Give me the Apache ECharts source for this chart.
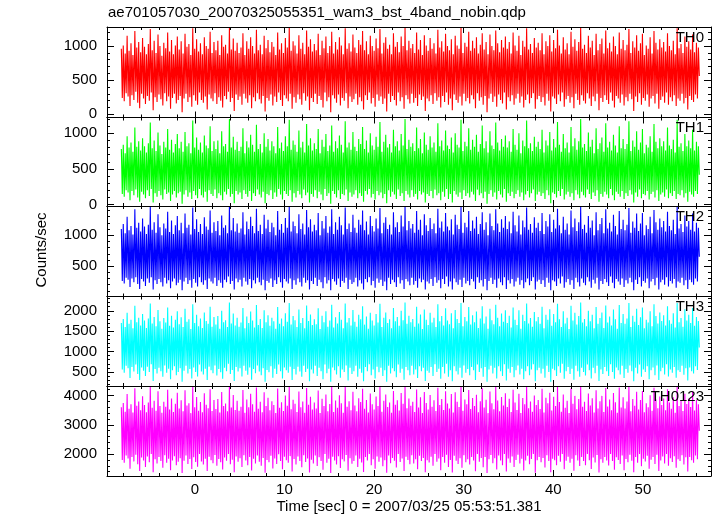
<!DOCTYPE html>
<html><head><meta charset="utf-8">
<script src="https://cdn.jsdelivr.net/npm/echarts@6/dist/echarts.min.js"></script>
<style>html,body{margin:0;padding:0;background:#fff}#c{width:717px;height:516px}</style>
</head><body><div id="c"></div>
<script>
const chartTitle = 'ae701057030_20070325055351_wam3_bst_4band_nobin.qdp';
const xTitle = 'Time [sec] 0 = 2007/03/25 05:53:51.381';
const yTitle = 'Counts/sec';
const bandNames = ['TH0', 'TH1', 'TH2', 'TH3', 'TH0123'];
const bandColors = ['#ff0000', '#00ff00', '#0000ff', '#00ffff', '#ff00ff'];
const timeStart = -8.2, timeEnd = 56.3;
const xRange = [-9.8, 57.6];
const xMajorTicks = [0, 10, 20, 30, 40, 50];
const xMinorTicks = [-8, -6, -4, -2, 2, 4, 6, 8, 12, 14, 16, 18, 22, 24, 26, 28, 32, 34, 36, 38, 42, 44, 46, 48, 52, 54, 56];
const yRanges = [[-47, 1280], [-20, 1222], [8, 1473], [155, 2350], [1250, 4328]];
const yMajorTicks = [[0, 500, 1000], [0, 500, 1000], [500, 1000], [500, 1000, 1500, 2000], [2000, 3000, 4000]];
const yMinorStep = [100, 100, 100, 100, 200];

const th0 = [
960,240,1010,190,890,310,1150,260,930,120,1040,280,870,210,1220,330,980,170,1060,90,
910,300,1120,230,990,150,880,270,1030,200,1250,320,940,60,1080,250,900,180,1170,290,
1000,220,860,130,1050,310,970,190,1200,260,920,80,1090,240,880,300,1010,160,1140,210,
950,270,1070,30,890,230,1180,300,990,180,1030,250,870,110,1260,280,960,200,1100,140,
920,320,1040,210,880,170,1130,260,1000,70,960,290,1210,230,900,190,1060,310,940,150,
1080,250,870,200,1160,100,990,270,1020,220,890,330,1270,180,950,240,1110,50,930,290,
1050,210,900,260,980,140,1190,300,870,230,1070,170,960,280,1130,90,1000,250,890,190,
1240,310,940,220,1020,160,880,270,1150,40,970,240,1090,200,910,290,1060,130,990,260,
870,180,1200,320,950,210,1040,120,900,280,1120,230,980,190,1280,300,930,80,1070,250,
1010,170,890,290,1160,220,960,140,1050,310,880,200,1230,260,990,60,1100,240,920,180,
1030,300,940,150,1180,270,870,210,1080,100,970,320,1140,190,900,250,1000,30,1210,280,
890,230,1060,170,950,290,1130,130,1010,240,880,200,1260,310,960,90,1040,260,920,180,
1170,220,980,300,900,140,1090,250,1020,190,1220,70,940,280,1070,210,880,320,1150,160,
1000,240,930,110,1110,290,970,200,1250,260,890,150,1050,230,1130,40,960,300,1020,180,
880,270,1190,210,990,130,1060,320,910,190,1140,250,1000,80,1270,280,940,220,1080,160,
970,300,1030,170,900,240,1200,120,950,290,1090,210,870,260,1160,50,1010,230,930,190,
1120,280,960,150,1040,310,890,200,1240,250,980,100,1070,270,920,180,1180,320,1000,140,
940,230,1100,60,880,290,1150,210,1010,170,960,260,1280,130,900,300,1050,190,990,240,
1210,160,930,280,1080,220,970,90,1130,310,890,200,1020,250,1190,140,950,270,1060,30,
880,230,1170,300,1000,180,940,260,1230,110,1040,290,910,210,1090,160,980,320,1140,70,
960,250,1060,190,890,280,1200,140,1010,230,930,300,1150,170,870,260,1080,100,990,210,
1260,290,950,160,1030,240,900,310,1120,80,980,220,1050,270,940,180,1190,250,880,130,
1070,300,1000,200,1160,40,920,260,1090,230,970,150,1240,290,1010,190,890,320,1130,110,
950,220,1040,270,880,170,1210,250,990,90,1100,300,930,210,1060,140,1270,280,960,200,
1020,160,900,310,1150,230,980,120,1080,260,870,190,1180,300,940,60,1030,240,1110,180,
890,280,1230,210,970,150,1050,320,920,200,1140,100,1000,270,880,230,1200,170,960,290,
1090,130,940,250,1020,190,1250,300,900,220,1070,50,980,260,1160,180,930,310,1040,140,
1180,240,870,200,1010,290,960,110,1130,230,890,270,1220,160,1050,300,950,80,1100,210,
980,260,1060,170,920,320,1190,140,1000,250,940,190,1080,280,880,120,1260,230,970,200,
1030,300,900,160,1140,240,990,70,1070,270,950,210,1170,180,910,290,1050,230,980,560];

const th1 = [
780,150,840,110,720,200,960,170,800,60,870,190,740,130,1080,210,810,100,890,40,
760,180,930,140,820,90,730,200,860,120,1150,220,790,30,900,160,750,110,1010,190,
830,130,710,70,880,210,800,150,1060,170,770,50,910,140,730,190,850,100,990,160,
790,180,880,10,740,140,1020,200,820,110,860,170,720,80,1180,190,800,130,940,90,
770,220,870,130,730,100,970,180,830,40,790,200,1100,150,750,120,890,210,780,90,
900,160,720,130,1030,60,820,180,850,140,740,220,1200,110,800,150,950,20,770,190,
880,140,750,170,810,80,1070,200,720,150,890,110,800,190,980,50,840,160,740,120,
1120,210,780,140,850,100,730,180,1000,20,810,150,920,130,760,200,890,80,820,170,
720,110,1090,220,790,140,870,70,750,190,960,150,820,120,1190,200,770,40,900,160,
840,100,740,190,1040,140,800,90,880,210,730,130,1130,170,830,30,930,150,760,110,
860,200,780,90,1060,180,720,140,910,60,810,220,990,120,750,160,830,10,1110,190,
740,150,890,100,790,200,970,80,840,150,730,130,1170,210,800,50,870,170,770,110,
1020,140,810,200,750,90,920,160,850,120,1090,40,780,190,900,140,730,220,1000,100,
830,150,770,70,950,190,810,130,1160,170,740,90,880,150,980,20,800,200,850,110,
730,180,1050,140,820,80,890,210,760,120,990,160,830,50,1200,190,780,140,910,100,
810,200,860,110,750,150,1080,70,790,190,920,140,720,170,1010,30,840,150,770,120,
960,190,800,90,870,210,740,130,1140,160,820,60,900,180,760,110,1040,220,830,80,
780,150,940,30,730,190,1000,140,840,110,800,170,1190,80,750,200,880,120,820,160,
1070,100,770,180,910,140,810,50,980,210,740,130,850,160,1110,90,790,180,890,10,
730,150,1030,200,830,110,780,170,1150,70,870,190,760,140,920,100,810,220,970,40,
800,160,890,120,740,180,1060,90,840,150,770,200,1000,110,720,170,900,60,820,140,
1180,190,790,100,860,160,750,210,950,50,810,140,880,180,780,120,1050,160,730,80,
900,200,830,130,1020,20,760,170,920,150,800,100,1160,190,840,120,740,220,990,70,
790,140,870,180,730,110,1090,160,820,60,930,200,770,140,890,90,1200,180,800,130,
850,100,750,210,1010,150,810,80,910,170,720,120,1070,200,780,40,860,150,940,110,
740,180,1140,140,800,90,880,220,760,130,980,60,830,180,730,150,1100,110,790,190,
920,80,780,160,850,120,1170,200,750,140,900,30,810,170,1030,110,770,210,870,90,
1060,150,720,130,840,190,800,70,960,150,740,180,1130,100,880,200,790,50,930,140,
820,170,890,110,760,210,1080,90,830,160,780,120,910,190,730,80,1190,150,810,130,
860,200,750,100,990,160,820,40,900,180,790,140,1050,110,760,190,880,150,820,420];

const th2 = [
1100,260,1180,220,1030,310,1300,280,1080,160,1150,300,1010,240,1420,320,1120,210,1200,130,
1060,290,1270,250,1140,180,1020,300,1170,230,1460,320,1090,120,1210,270,1040,210,1340,290,
1130,240,1000,170,1190,310,1110,220,1380,270,1050,140,1240,250,1020,300,1160,190,1310,230,
1080,280,1200,110,1030,250,1350,310,1120,210,1170,270,1010,150,1450,290,1100,230,1260,170,
1050,320,1180,240,1020,200,1290,270,1140,130,1090,300,1400,250,1040,220,1210,310,1070,180,
1230,270,1000,230,1320,150,1120,280,1160,240,1030,330,1470,210,1080,260,1280,120,1060,300,
1190,240,1040,280,1110,170,1370,310,1010,250,1220,200,1100,290,1300,140,1150,270,1030,220,
1430,310,1070,240,1170,190,1020,280,1330,110,1110,260,1250,230,1050,300,1200,160,1130,270,
1000,210,1390,320,1090,240,1180,150,1040,290,1280,250,1120,220,1460,300,1060,130,1220,270,
1150,200,1030,300,1340,240,1100,170,1190,310,1010,230,1410,270,1130,120,1260,260,1060,210,
1170,310,1080,180,1360,280,1000,240,1230,140,1110,320,1310,220,1040,270,1140,110,1420,290,
1020,250,1210,200,1090,300,1300,160,1160,260,1010,230,1450,310,1100,130,1190,280,1050,210,
1330,240,1120,310,1040,170,1250,270,1170,220,1400,120,1080,290,1220,240,1010,320,1310,190,
1150,260,1060,150,1270,300,1110,230,1440,280,1030,180,1200,250,1290,110,1100,310,1170,210,
1010,280,1370,240,1130,160,1210,320,1050,220,1320,270,1140,130,1470,290,1080,250,1230,190,
1110,310,1180,200,1040,260,1390,150,1090,300,1250,240,1000,280,1340,120,1160,250,1070,220,
1280,290,1100,180,1190,320,1030,230,1430,270,1120,140,1220,290,1060,210,1360,330,1140,170,
1080,250,1260,120,1010,300,1330,240,1170,200,1100,280,1460,160,1040,310,1200,220,1130,260,
1390,190,1070,290,1240,250,1110,130,1300,320,1020,230,1180,270,1370,170,1090,290,1210,110,
1000,260,1350,310,1150,210,1080,280,1420,150,1190,300,1050,240,1260,190,1120,320,1310,130,
1100,270,1220,220,1030,290,1380,170,1160,250,1060,310,1320,200,1010,270,1240,140,1130,240,
1450,300,1090,190,1180,260,1040,320,1290,120,1120,250,1200,280,1070,210,1360,270,1020,160,
1230,310,1140,230,1340,110,1050,270,1250,250,1110,180,1430,300,1160,220,1030,330,1300,150,
1090,240,1190,290,1010,200,1400,270,1130,130,1270,310,1070,240,1210,170,1460,300,1100,230,
1170,190,1040,320,1310,250,1120,150,1240,280,1000,220,1370,310,1080,120,1180,260,1280,210,
1030,290,1420,240,1110,180,1200,330,1060,230,1330,140,1150,290,1010,250,1390,200,1100,300,
1250,160,1080,270,1170,220,1440,310,1040,240,1220,110,1120,280,1350,210,1070,320,1190,170,
1360,260,1000,230,1160,300,1100,140,1300,250,1030,290,1410,190,1210,310,1090,120,1270,240,
1130,280,1230,200,1060,320,1380,170,1150,260,1080,220,1250,290,1020,150,1470,250,1110,230,
1180,310,1050,190,1320,270,1140,130,1230,280,1090,240,1350,200,1060,300,1200,250,1120,650];

const th3 = [
1700,560,1800,480,1600,650,1950,590,1680,350,1780,620,1570,510,2120,680,1720,450,1830,300,
1640,610,1920,530,1760,400,1580,630,1810,500,2180,690,1690,280,1850,570,1620,460,2020,600,
1740,520,1560,380,1820,660,1710,480,2080,580,1630,320,1880,540,1590,640,1780,420,1990,500,
1670,590,1840,260,1600,530,2050,650,1730,460,1790,570,1550,340,2160,610,1700,500,1900,390,
1620,680,1810,510,1580,440,1960,580,1750,300,1680,630,2100,540,1610,470,1850,660,1660,410,
1870,570,1560,490,2000,330,1720,600,1770,520,1600,700,2200,450,1690,550,1930,280,1640,620,
1830,510,1610,590,1710,390,2070,650,1570,530,1860,430,1700,610,1980,310,1760,570,1590,470,
2140,660,1650,510,1800,420,1580,590,2010,260,1720,550,1890,490,1630,640,1830,360,1740,580,
1560,450,2090,680,1680,520,1810,340,1620,610,1940,540,1730,480,2190,630,1660,300,1870,570,
1770,440,1600,630,2030,510,1700,380,1820,650,1570,500,2130,580,1750,270,1910,560,1650,460,
1790,650,1670,400,2060,600,1550,520,1880,320,1720,680,1990,470,1610,580,1760,260,2150,610,
1590,540,1840,440,1690,640,1970,360,1780,560,1570,500,2180,660,1710,290,1820,600,1640,450,
2020,520,1730,650,1610,380,1900,580,1790,480,2110,270,1660,620,1860,520,1560,690,1950,420,
1760,560,1640,340,1920,630,1710,490,2170,600,1600,400,1830,540,1960,260,1700,650,1790,460,
1570,590,2070,520,1740,370,1850,680,1630,480,2000,580,1770,310,2200,620,1680,540,1880,420,
1720,650,1800,440,1610,560,2100,350,1690,640,1910,520,1550,600,2030,280,1780,530,1650,480,
1950,620,1710,400,1830,690,1600,500,2160,580,1740,330,1870,620,1640,460,2060,700,1760,380,
1670,540,1940,270,1570,640,2020,520,1800,440,1700,600,2190,360,1620,660,1850,480,1740,570,
2090,420,1660,620,1890,540,1720,300,1980,680,1580,500,1810,590,2110,380,1690,620,1860,260,
1560,560,2050,650,1770,460,1670,600,2150,340,1830,640,1620,520,1930,400,1730,690,2010,290,
1700,580,1880,480,1590,620,2080,370,1780,540,1650,660,2010,440,1560,580,1900,320,1750,520,
2180,640,1690,420,1820,560,1610,690,1970,270,1740,540,1850,600,1680,460,2100,580,1570,360,
1900,650,1780,500,2040,260,1630,580,1920,540,1720,400,2170,640,1790,480,1600,700,1990,330,
1690,520,1830,620,1550,450,2120,580,1760,310,1950,650,1660,520,1870,380,2200,600,1710,500,
1800,410,1620,680,2000,540,1740,340,1900,600,1570,470,2090,650,1680,280,1820,560,1960,450,
1580,620,2130,520,1710,400,1860,690,1640,500,2030,330,1790,610,1560,540,2140,440,1700,650,
1920,350,1680,570,1810,480,2190,660,1600,520,1880,270,1730,600,2050,460,1650,680,1840,380,
2080,560,1570,500,1780,640,1710,320,1990,540,1620,610,2160,420,1870,660,1690,300,1960,520,
1750,600,1890,440,1640,690,2110,390,1770,560,1680,480,1940,620,1590,360,2190,540,1720,500,
1820,650,1610,430,2040,590,1760,290,1900,610,1700,520,2070,460,1630,640,1850,550,1750,1100];

const th0123 = [
3600,1800,3750,1700,3450,1950,4050,1850,3550,1500,3700,1900,3420,1750,4250,1980,3650,1650,3800,1420,
3500,1880,3980,1780,3680,1560,3430,1920,3760,1720,4310,2000,3580,1380,3820,1820,3480,1680,4150,1900,
3640,1760,3410,1530,3790,1960,3620,1700,4200,1840,3520,1450,3900,1780,3440,1930,3720,1620,4100,1740,
3560,1860,3840,1350,3460,1770,4180,1950,3660,1660,3740,1830,3400,1490,4300,1890,3600,1730,3950,1570,
3480,2000,3780,1750,3430,1640,4080,1840,3690,1420,3570,1910,4220,1790,3470,1690,3850,1970,3540,1600,
3880,1830,3420,1720,4120,1470,3640,1880,3730,1770,3460,2000,4330,1650,3590,1810,4020,1380,3510,1920,
3820,1740,3480,1860,3620,1560,4190,1960,3410,1780,3870,1620,3600,1900,4060,1440,3700,1840,3450,1680,
4280,1950,3550,1740,3790,1600,3430,1870,4110,1360,3640,1800,3930,1720,3500,1940,3810,1510,3680,1850,
3400,1660,4240,1990,3580,1760,3770,1480,3470,1910,4000,1790,3650,1700,4320,1930,3530,1400,3860,1830,
3720,1640,3440,1920,4140,1760,3600,1550,3800,1960,3410,1730,4260,1850,3690,1370,3960,1810,3520,1680,
3760,1950,3560,1590,4170,1890,3400,1760,3890,1460,3640,2000,4040,1700,3460,1840,3710,1350,4290,1910,
3440,1780,3830,1640,3580,1930,4010,1520,3740,1820,3410,1750,4310,1970,3620,1430,3810,1860,3500,1670,
4130,1760,3660,1950,3460,1560,3910,1840,3780,1710,4230,1390,3550,1900,3850,1780,3420,2000,4070,1620,
3700,1820,3520,1500,3970,1920,3640,1740,4300,1880,3450,1580,3820,1790,4040,1360,3610,1950,3760,1690,
3410,1870,4160,1770,3690,1540,3840,2000,3490,1730,4090,1850,3720,1420,4330,1910,3570,1800,3900,1650,
3650,1960,3790,1680,3440,1820,4210,1480,3590,1940,3940,1760,3400,1870,4120,1380,3750,1790,3520,1710,
4020,1910,3620,1600,3840,2000,3470,1740,4270,1850,3680,1450,3880,1900,3510,1700,4150,1980,3730,1560,
3560,1800,4050,1370,3420,1940,4110,1770,3790,1660,3610,1860,4320,1530,3480,1960,3870,1720,3700,1820,
4190,1640,3540,1900,3920,1780,3640,1410,4030,2000,3430,1740,3810,1870,4250,1550,3590,1900,3860,1350,
3400,1820,4140,1970,3740,1690,3530,1860,4300,1470,3830,1950,3460,1780,3950,1620,3660,2000,4080,1400,
3610,1850,3890,1700,3440,1920,4200,1560,3760,1800,3510,1980,4060,1680,3400,1840,3920,1440,3700,1780,
4310,1940,3570,1650,3800,1830,3450,2000,4000,1360,3680,1790,3850,1900,3540,1720,4230,1870,3420,1540,
3930,1960,3740,1760,4100,1380,3490,1840,3960,1790,3640,1620,4290,1940,3780,1740,3450,2000,4040,1480,
3580,1770,3820,1910,3400,1700,4240,1840,3720,1430,3990,1960,3530,1780,3880,1590,4330,1900,3620,1760,
3790,1620,3470,2000,4070,1790,3660,1490,3910,1880,3420,1710,4180,1970,3560,1370,3810,1820,3990,1700,
3440,1900,4260,1780,3630,1610,3870,2000,3500,1760,4090,1460,3770,1890,3410,1800,4280,1660,3590,1950,
3940,1450,3560,1830,3800,1720,4320,1980,3460,1770,3880,1380,3650,1900,4130,1700,3520,2000,3850,1580,
4160,1840,3430,1750,3740,1940,3600,1500,4010,1810,3480,1900,4270,1660,3870,1980,3570,1420,3970,1780,
3680,1920,3900,1680,3500,2000,4220,1600,3760,1860,3550,1730,3940,1930,3410,1530,4300,1820,3640,1760,
3820,1960,3470,1640,4060,1890,3710,1400,3900,1900,3610,1790,4140,1700,3490,1950,3850,1820,3700,2800];

const bandValues = [th0, th1, th2, th3, th0123];

// layout (px)
const gridLeft = 107, gridWidth = 604;
const gridTops = [27, 117.5, 206, 296.5, 386];
const gridHeights = [90.5, 88.5, 90.5, 89.5, 90];
const FONT = 'Liberation Sans, Arial, Helvetica, sans-serif';

function minorList(range, step) {
  const out = [];
  for (let v = Math.ceil(range[0] / step) * step; v <= range[1]; v += step) out.push(v);
  return out;
}

const grids = [], xAxes = [], yAxes = [], series = [], graphics = [];
const lineBlack = { show: true, onZero: false, lineStyle: { color: '#000', width: 1 } };
const plainLabel = v => String(v);
for (let g = 0; g < 5; g++) {
  grids.push({ left: gridLeft, width: gridWidth, top: gridTops[g], height: gridHeights[g], containLabel: false });
  const last = g === 4;
  const xBase = { type: 'value', gridIndex: g, min: xRange[0], max: xRange[1], splitLine: { show: false }, z: 10 };
  ['bottom', 'top'].forEach(pos => {
    xAxes.push(Object.assign({}, xBase, {
      position: pos,
      axisLine: lineBlack,
      axisTick: { show: true, inside: true, length: 6, customValues: xMajorTicks, lineStyle: { color: '#000', width: 1 } },
      axisLabel: (last && pos === 'bottom') ? { show: true, customValues: xMajorTicks, formatter: plainLabel, color: '#000', fontSize: 15, fontFamily: FONT, margin: 6 } : { show: false }
    }));
    xAxes.push(Object.assign({}, xBase, {
      position: pos,
      axisLine: { show: false, onZero: false },
      axisTick: { show: true, inside: true, length: 3, customValues: xMinorTicks, lineStyle: { color: '#000', width: 1 } },
      axisLabel: { show: false }
    }));
  });
  const yr = yRanges[g];
  const yBase = { type: 'value', gridIndex: g, min: yr[0], max: yr[1], splitLine: { show: false }, z: 10 };
  const minors = minorList(yr, yMinorStep[g]).filter(v => yMajorTicks[g].indexOf(v) < 0);
  ['left', 'right'].forEach(pos => {
    yAxes.push(Object.assign({}, yBase, {
      position: pos,
      axisLine: lineBlack,
      axisTick: { show: true, inside: true, length: 7, customValues: yMajorTicks[g], lineStyle: { color: '#000', width: 1 } },
      axisLabel: pos === 'left' ? { show: true, customValues: yMajorTicks[g], formatter: plainLabel, color: '#000', fontSize: 15, fontFamily: FONT, margin: 10 } : { show: false }
    }));
    yAxes.push(Object.assign({}, yBase, {
      position: pos,
      axisLine: { show: false, onZero: false },
      axisTick: { show: true, inside: true, length: 3, customValues: minors, lineStyle: { color: '#000', width: 1 } },
      axisLabel: { show: false }
    }));
  });
  const vals = bandValues[g];
  const dt = (timeEnd - timeStart) / (vals.length - 1);
  series.push({
    type: 'line', xAxisIndex: g * 4, yAxisIndex: g * 4,
    data: vals.map((v, i) => [timeStart + i * dt, v]),
    showSymbol: false, symbol: 'none', clip: true,
    lineStyle: { color: bandColors[g], width: 1.1 }, itemStyle: { color: bandColors[g] },
    z: 2, animation: false
  });
  graphics.push({
    type: 'text', right: 717 - 704, top: gridTops[g] + 3, z: 100,
    style: { text: bandNames[g], fill: '#000', font: '15px ' + FONT, textAlign: 'right' }
  });
}
graphics.push({ type: 'text', left: 108, top: 5, z: 100, style: { text: chartTitle, fill: '#000', font: '15px ' + FONT } });
graphics.push({ type: 'text', x: 409, y: 507, z: 100, style: { text: xTitle, fill: '#000', font: '15px ' + FONT, align: 'center', verticalAlign: 'middle' } });
graphics.push({ type: 'text', x: 42, y: 250, rotation: Math.PI / 2, z: 100, style: { text: yTitle, fill: '#000', font: '15px ' + FONT, align: 'center', verticalAlign: 'middle' } });

const chart = echarts.init(document.getElementById('c'), null, { renderer: 'canvas' });
chart.setOption({
  animation: false,
  backgroundColor: '#fff',
  grid: grids, xAxis: xAxes, yAxis: yAxes, series: series, graphic: graphics
});
</script></body></html>
